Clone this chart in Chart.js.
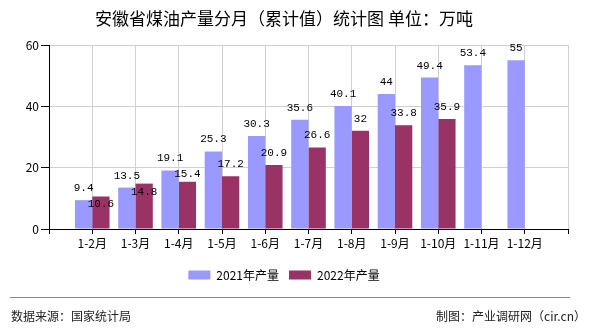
<!DOCTYPE html>
<html>
<head>
<meta charset="utf-8">
<script src="https://cdn.jsdelivr.net/npm/chart.js@4"></script>
<style>
    body { margin: 0; background: #fff; }
    #wrap { position: relative; width: 590px; height: 330px; }
    #line { position: absolute; left: 10px; top: 297px; width: 560px; height: 0; border-top: 1px solid #888; }
    .foot { position: absolute; top: 307px; font: 12px "Noto Sans CJK SC", sans-serif; color: #222; }
</style>
</head>
<body>
<div id="wrap">
    <canvas id="myChart" width="590" height="330"></canvas>
    <div id="line"></div>
    <div class="foot" style="left:11px">数据来源：国家统计局</div>
    <div class="foot" style="right:4px">制图：产业调研网（cir.cn）</div>
</div>
<script>
// 安徽省煤油产量分月（累计值）
const labels = ['', '1-2月', '1-3月', '1-4月', '1-5月', '1-6月', '1-7月', '1-8月', '1-9月', '1-10月', '1-11月', '1-12月', ''];
const data2021 = [null, 9.4, 13.5, 19.1, 25.3, 30.3, 35.6, 40.1, 44, 49.4, 53.4, 55, null];
const data2022 = [null, 10.6, 14.8, 15.4, 17.2, 20.9, 26.6, 32, 33.8, 35.9, null, null, null];
const yTicks = [0, 20, 40, 60];

Chart.defaults.font.family = '"Noto Sans CJK SC", sans-serif';
Chart.defaults.color = '#000';

// 柱顶数值
const valueLabels = {
    id: 'valueLabels',
    afterDatasetsDraw: function (chart) {
        var ctx = chart.ctx;
        ctx.save();
        ctx.font = '11px "Liberation Mono", monospace';
        ctx.fillStyle = '#000';
        ctx.textAlign = 'center';
        ctx.textBaseline = 'alphabetic';
        var first = [];
        chart.data.datasets.forEach(function (ds, di) {
            var meta = chart.getDatasetMeta(di);
            meta.data.forEach(function (bar, i) {
                var v = ds.data[i];
                if (v === null) return;
                var txt = String(v);
                var w = ctx.measureText(txt).width;
                var y = bar.y - 9;
                if (di === 1 && first[i]) {
                    var f = first[i];
                    var overlapX = Math.abs(bar.x - f.x) < (w + f.w) / 2;
                    var overlapY = Math.abs(y - f.y) < 12;
                    if (overlapX && overlapY) y = Math.max(y, f.y + 16);
                }
                if (di === 0) first[i] = { x: bar.x, y: y, w: w };
                ctx.fillText(txt, bar.x, y);
            });
        });
        ctx.restore();
    }
};

const data = {
    labels: labels,
    datasets: [{
        label: '2021年产量',
        data: data2021,
        backgroundColor: '#9999ff',
        categoryPercentage: 0.8,
        barPercentage: 1
    }, {
        label: '2022年产量',
        data: data2022,
        backgroundColor: '#993366',
        categoryPercentage: 0.8,
        barPercentage: 1
    }]
};

const config = {
    type: 'bar',
    data: data,
    plugins: [valueLabels],
    options: {
        responsive: false,
        animation: false,
        devicePixelRatio: 1,
        layout: { padding: { top: 0, left: 0, right: 22, bottom: 39 } },
        plugins: {
            title: {
                display: true,
                text: '安徽省煤油产量分月（累计值）统计图 单位：万吨',
                font: { size: 17, weight: 'normal' },
                color: '#000',
                padding: { top: 8, bottom: 16.6 }
            },
            legend: {
                position: 'bottom',
                labels: {
                    boxWidth: 22,
                    boxHeight: 9,
                    padding: 10,
                    font: { size: 12 },
                    color: '#000'
                }
            },
            tooltip: { enabled: false }
        },
        scales: {
            x: {
                offset: false,
                grid: { offset: false, color: '#d0d0d0', tickColor: '#000', tickLength: 5 },
                border: { color: '#000' },
                ticks: { font: { size: 12 }, color: '#000', padding: 2, autoSkip: false, maxRotation: 0 },
                afterFit: function (scale) { scale.height = 30; }
            },
            y: {
                min: 0,
                max: 60,
                afterBuildTicks: function (scale) {
                    scale.ticks = yTicks.map(function (v) { return { value: v }; });
                },
                grid: { color: '#d0d0d0', tickColor: '#000', tickLength: 8 },
                border: { color: '#000' },
                ticks: { font: { size: 12 }, color: '#000', padding: 2 },
                afterFit: function (scale) { scale.width = 49; }
            }
        }
    }
};

const myChart = new Chart(
    document.getElementById('myChart'),
    config
);
</script>
</body>
</html>
